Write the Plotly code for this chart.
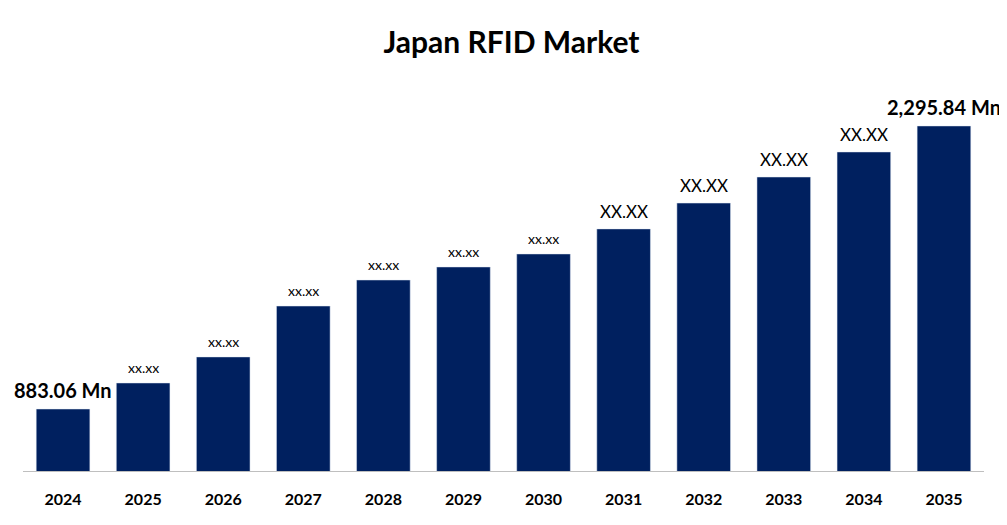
import plotly.graph_objects as go

years = [2024, 2025, 2026, 2027, 2028, 2029, 2030, 2031, 2032, 2033, 2034, 2035]
values = [883.06, 1013, 1143, 1397, 1527, 1592, 1657, 1782, 1911, 2041, 2166, 2295.84]
labels = ["883.06 Mn","xx.xx","xx.xx","xx.xx","xx.xx","xx.xx","xx.xx","XX.XX","XX.XX","XX.XX","XX.XX","2,295.84 Mn"]
label_sizes = [20,14,14,14,14,14,14,17,17,17,17,20]
label_bold = [True]+[False]*10+[True]

fig = go.Figure(go.Bar(x=years, y=values, marker_color="#00205f", width=0.67))
for x, v, t, s, b in zip(years, values, labels, label_sizes, label_bold):
    fig.add_annotation(x=x, y=v, xref="x", yref="y", text=f"<b>{t}</b>" if b else t, showarrow=False,
                       yanchor="bottom", yshift=5, font=dict(size=s, color="black", family="Lato"))
fig.update_layout(
    width=1007, height=525, plot_bgcolor="white", paper_bgcolor="white",
    margin=dict(l=15, r=31, t=52, b=62),
    title=dict(text="<b>Japan RFID Market</b>", x=0.5, y=0.955, yanchor="top", xanchor="center",
               font=dict(size=30, color="black", family="Lato")),
    xaxis=dict(range=[2023.5, 2035.5], tickmode="array", tickvals=years,
               ticktext=[f"<b>{y}</b>" for y in years], ticklabelstandoff=14,
               showline=True, linecolor="#bfbfbf", linewidth=1, ticks="", showgrid=False, zeroline=False,
               tickfont=dict(size=16, color="black", family="Lato")),
    yaxis=dict(visible=False, range=[573.6, 2625]),
    showlegend=False,
)
fig.write_html("out.html")
